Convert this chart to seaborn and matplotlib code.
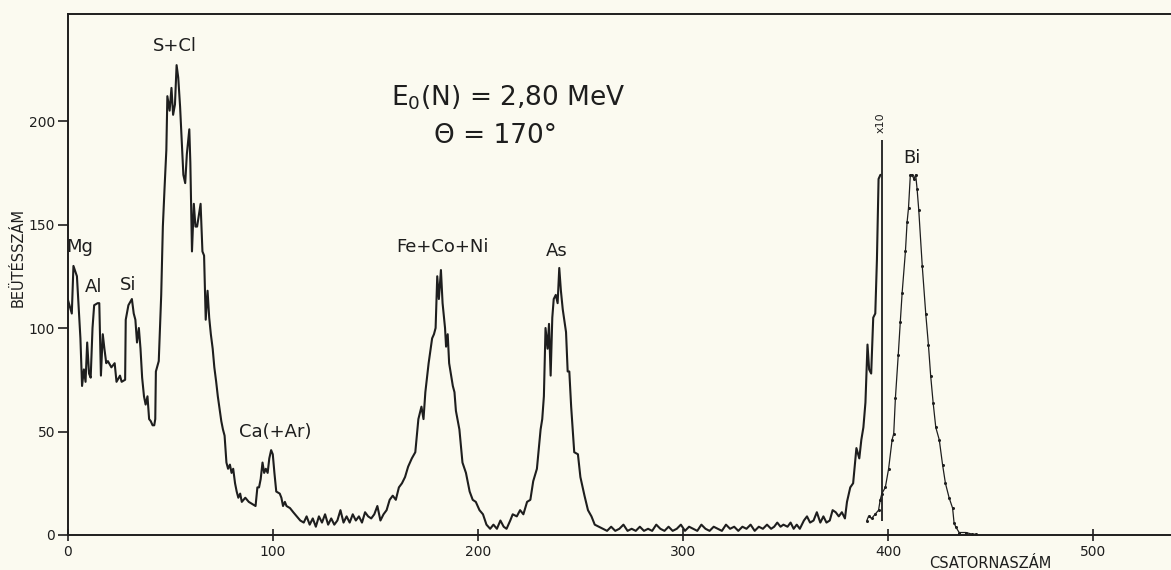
import matplotlib
matplotlib.use("Agg")
import matplotlib.pyplot as plt
import seaborn as sns
import pandas as pd

# ---- data (channel number, counts), region by region ----
light_ch = [0.0, 2.0, 2.8, 4.5, 5.7, 6.2, 7.0, 7.9, 8.7, 9.5,
            10.4, 11.2, 12.1, 12.9, 14.6, 15.4, 16.2, 17.1, 17.9, 18.8,
            19.6, 21.3, 22.9, 23.8, 25.5, 26.3, 28.0, 28.3, 29.6, 31.3,
            32.2, 33.0, 33.8, 34.7, 35.5, 36.3, 37.2, 38.0, 38.9, 39.7,
            40.5, 41.4, 42.2, 42.7]
light_ct = [114, 107, 130, 125, 104, 95, 72, 80, 74, 93,
            78, 76, 100, 111, 112, 112, 77, 97, 90, 83,
            84, 81, 83, 74, 77, 74, 75, 104, 111, 114,
            107, 104, 93, 100, 90, 76, 67, 63, 67, 56,
            55, 53, 53, 56]

scl_ch = [43.0, 44.4, 45.6, 46.4, 47.2, 48.1, 48.6, 49.7, 50.6, 51.4,
          52.3, 53.1, 53.9, 54.8, 56.4, 57.3, 58.1, 59.3, 59.8, 60.6,
          61.5, 62.3, 63.1, 64.8, 65.7, 66.5, 67.3, 68.2, 69.0, 69.8,
          70.7, 71.5, 72.4, 73.2, 74.9, 75.7, 76.5, 77.4, 78.2, 79.1,
          79.9, 80.7, 81.6, 82.4, 83.2, 84.1, 84.9]
scl_ct = [79, 84, 116, 149, 167, 186, 212, 205, 216, 203,
          208, 227, 221, 207, 174, 170, 184, 196, 180, 137,
          160, 149, 149, 160, 137, 135, 104, 118, 105, 97,
          90, 81, 74, 67, 55, 51, 48, 35, 32, 34,
          30, 32, 25, 21, 18, 20, 16]

ca_ch = [86.6, 88.3, 89.9, 91.6, 92.5, 93.3, 94.1, 95.0, 95.8, 96.6,
         97.5, 98.3, 99.2, 100.0, 100.8, 101.7, 103.4, 104.2, 105.0, 105.9,
         106.7, 108.4, 110.0, 111.7, 113.4, 115.1]
ca_ct = [18, 16, 15, 14, 23, 23, 27, 35, 30, 32,
         30, 37, 41, 39, 30, 21, 20, 18, 14, 16,
         14, 13, 11, 9, 7, 6]

flat1_ch = [116.5, 118.0, 119.5, 121.0, 122.5, 124.0, 125.5, 127.0, 128.5, 130.0,
            131.5, 133.0, 134.5, 136.0, 137.5, 139.0, 140.5, 142.0, 143.5, 145.0,
            146.5, 148.0, 149.5, 151.0, 152.5, 154.0, 155.5, 157.0, 158.5, 160.0,
            161.5, 163.0, 164.5]
flat1_ct = [9, 5, 8, 4, 9, 6, 10, 5, 8, 5,
            7, 12, 6, 9, 6, 10, 7, 9, 6, 11,
            9, 8, 10, 14, 7, 10, 12, 17, 19, 17,
            23, 25, 28]

fe_ch = [166.0, 167.8, 169.5, 171.0, 172.5, 173.5, 174.4, 176.0, 177.7, 178.6,
         179.4, 180.2, 181.0, 182.0, 182.8, 184.0, 184.5, 185.3, 186.0, 187.8,
         188.6, 189.3, 191.0, 192.5, 194.2, 196.0, 197.5, 199.0, 200.8, 202.5]
fe_ct = [33, 37, 40, 56, 62, 56, 69, 83, 95, 97,
         100, 125, 114, 128, 112, 100, 91, 97, 83, 72,
         69, 60, 51, 35, 30, 21, 17, 16, 12, 10]

as_ch = [204.2, 206.0, 207.6, 209.3, 211.0, 212.6, 214.0, 215.8, 217.0, 219.0,
         220.6, 222.2, 224.0, 225.6, 227.0, 228.8, 230.6, 231.4, 232.2, 233.0,
         234.0, 234.7, 235.5, 236.3, 237.0, 238.0, 238.9, 239.7, 240.5, 241.4,
         243.0, 243.8, 244.6, 245.5, 247.0, 248.8, 250.0, 252.0, 253.7, 255.4]
as_ct = [5, 3, 5, 3, 7, 4, 3, 7, 10, 9,
         12, 10, 16, 17, 26, 32, 51, 56, 67, 100,
         90, 102, 77, 105, 114, 116, 112, 129, 118, 109,
         98, 79, 79, 62, 40, 39, 28, 19, 12, 9]

flat2_ch = [257, 259, 261, 263, 265, 267, 269, 271, 273, 275,
            277, 279, 281, 283, 285, 287, 289, 291, 293, 295,
            297, 299, 301, 303, 305, 307, 309, 311, 313, 315,
            317, 319, 321, 323, 325, 327, 329, 331, 333, 335,
            337, 339, 341, 343]
flat2_ct = [5, 4, 3, 2, 4, 2, 3, 5, 2, 3,
            2, 4, 2, 3, 2, 5, 3, 2, 4, 2,
            3, 5, 2, 4, 3, 2, 5, 3, 2, 4,
            3, 2, 5, 3, 4, 2, 4, 3, 5, 2,
            4, 3, 5, 3]

tail_ch = [344.5, 346.0, 347.6, 349.0, 351.0, 352.5, 354.0, 355.5, 357.0, 359.0,
           360.5, 362.0, 363.7, 365.3, 367.0, 368.5, 370.0, 371.6, 373.0, 374.5,
           376.0, 377.5, 379.0, 380.0, 381.6, 383.0, 384.6, 386.0, 387.0, 388.0,
           389.0, 390.0, 390.8, 391.8, 392.8, 393.8, 394.6, 395.4, 396.3]
tail_ct = [4, 6, 4, 5, 4, 6, 3, 5, 3, 7,
           9, 6, 7, 11, 6, 9, 6, 7, 12, 11,
           9, 11, 8, 16, 23, 25, 42, 37, 46, 52,
           64, 92, 80, 78, 105, 107, 133, 172, 174]

bi_ch = [389.7, 390.5, 392.0, 393.7, 395.4, 396.2, 397.0, 398.7, 400.3, 402.0,
         402.8, 403.6, 405.0, 406.0, 406.9, 408.5, 409.3, 410.0, 410.9, 411.8,
         412.6, 413.5, 414.2, 415.0, 416.7, 418.4, 419.7, 420.8, 422.0, 423.3,
         425.0, 426.6, 428.0, 429.8, 431.5, 432.2, 433.0, 434.7, 438.0, 441.0,
         443.0]
bi_ct = [7, 9, 8, 10, 12, 17, 20, 23, 32, 46,
         49, 66, 87, 103, 117, 137, 151, 158, 174, 174,
         172, 174, 167, 157, 130, 107, 92, 77, 64, 52,
         46, 34, 25, 18, 13, 6, 4, 1.2, 1.2, 0.4,
         0.4]

x_ticks = [0, 100, 200, 300, 400, 500]
y_ticks = [0, 50, 100, 150, 200]

peak_labels = ["Mg", "Al", "Si", "S+Cl", "Ca(+Ar)", "Fe+Co+Ni", "As", "Bi"]
peak_x = [6, 12.5, 29.5, 52.5, 101, 183, 238.5, 411.5]
peak_y = [139, 120, 121, 236, 50, 139, 137, 182]

marker_channel = 397
marker_bottom, marker_top = 7, 191

# ---- style ----
paper = "#fbfaf0"
ink = "#1e1e1e"
sns.set_theme(style="white")
plt.rcParams["font.family"] = ["DejaVu Sans"]
plt.rcParams["mathtext.default"] = "regular"

fig = plt.figure(figsize=(11.71, 5.70), dpi=100, facecolor=paper)
ax = fig.add_axes([67.7 / 1171, 1 - 535 / 570, 1 - 67.7 / 1171, (535 - 14) / 570])
ax.set_facecolor(paper)

main_ch = light_ch + scl_ch + ca_ch + flat1_ch + fe_ch + as_ch + flat2_ch + tail_ch
main_ct = light_ct + scl_ct + ca_ct + flat1_ct + fe_ct + as_ct + flat2_ct + tail_ct
df_main = pd.DataFrame({"channel": main_ch, "count": main_ct})
df_bi = pd.DataFrame({"channel": bi_ch, "count": bi_ct})

sns.lineplot(data=df_main, x="channel", y="count", ax=ax, color=ink, lw=1.5,
             sort=False, estimator=None)
sns.lineplot(data=df_bi, x="channel", y="count", ax=ax, color=ink, lw=0.9,
             sort=False, estimator=None, marker="o", markersize=2.2, markeredgewidth=0)

ax.vlines(marker_channel, marker_bottom, marker_top, color=ink, lw=1.3)
ax.text(marker_channel - 0.5, marker_top + 3, "x10", rotation=90, ha="center", va="bottom",
        fontsize=8, color=ink)

for lab, px, py in zip(peak_labels, peak_x, peak_y):
    ax.text(px, py, lab, ha="center", va="center", fontsize=13, color=ink)

ax.text(215, 211, "E$_0$(N) = 2,80 MeV", ha="center", va="center", fontsize=19, color=ink)
ax.text(208.5, 193, "\u0398 = 170\u00b0", ha="center", va="center", fontsize=19, color=ink)

ax.set_xlim(0, 538)
ax.set_ylim(0, 251.7)
ax.set_xticks(x_ticks)
ax.set_yticks(y_ticks)
ax.tick_params(axis="y", direction="out", length=7, width=1.2, color=ink, labelsize=10,
               labelcolor=ink, pad=2, left=True)
ax.tick_params(axis="x", direction="inout", length=9, width=1.2, color=ink, labelsize=10,
               labelcolor=ink, pad=3, bottom=True)
for s in ["left", "top", "bottom"]:
    ax.spines[s].set_color(ink)
    ax.spines[s].set_linewidth(1.4)
ax.spines["right"].set_visible(False)

ax.set_xlabel("")
ax.set_ylabel("")
fig.text(18 / 1171, 1 - 257 / 570, "BEÜTÉSSZÁM", rotation=90, ha="center", va="center",
         fontsize=10.5, color=ink)
fig.text(990 / 1171, 1 - 564 / 570, "CSATORNASZÁM", ha="center", va="center",
         fontsize=10.5, color=ink)

fig.savefig("out.png", dpi=100, facecolor=paper)
